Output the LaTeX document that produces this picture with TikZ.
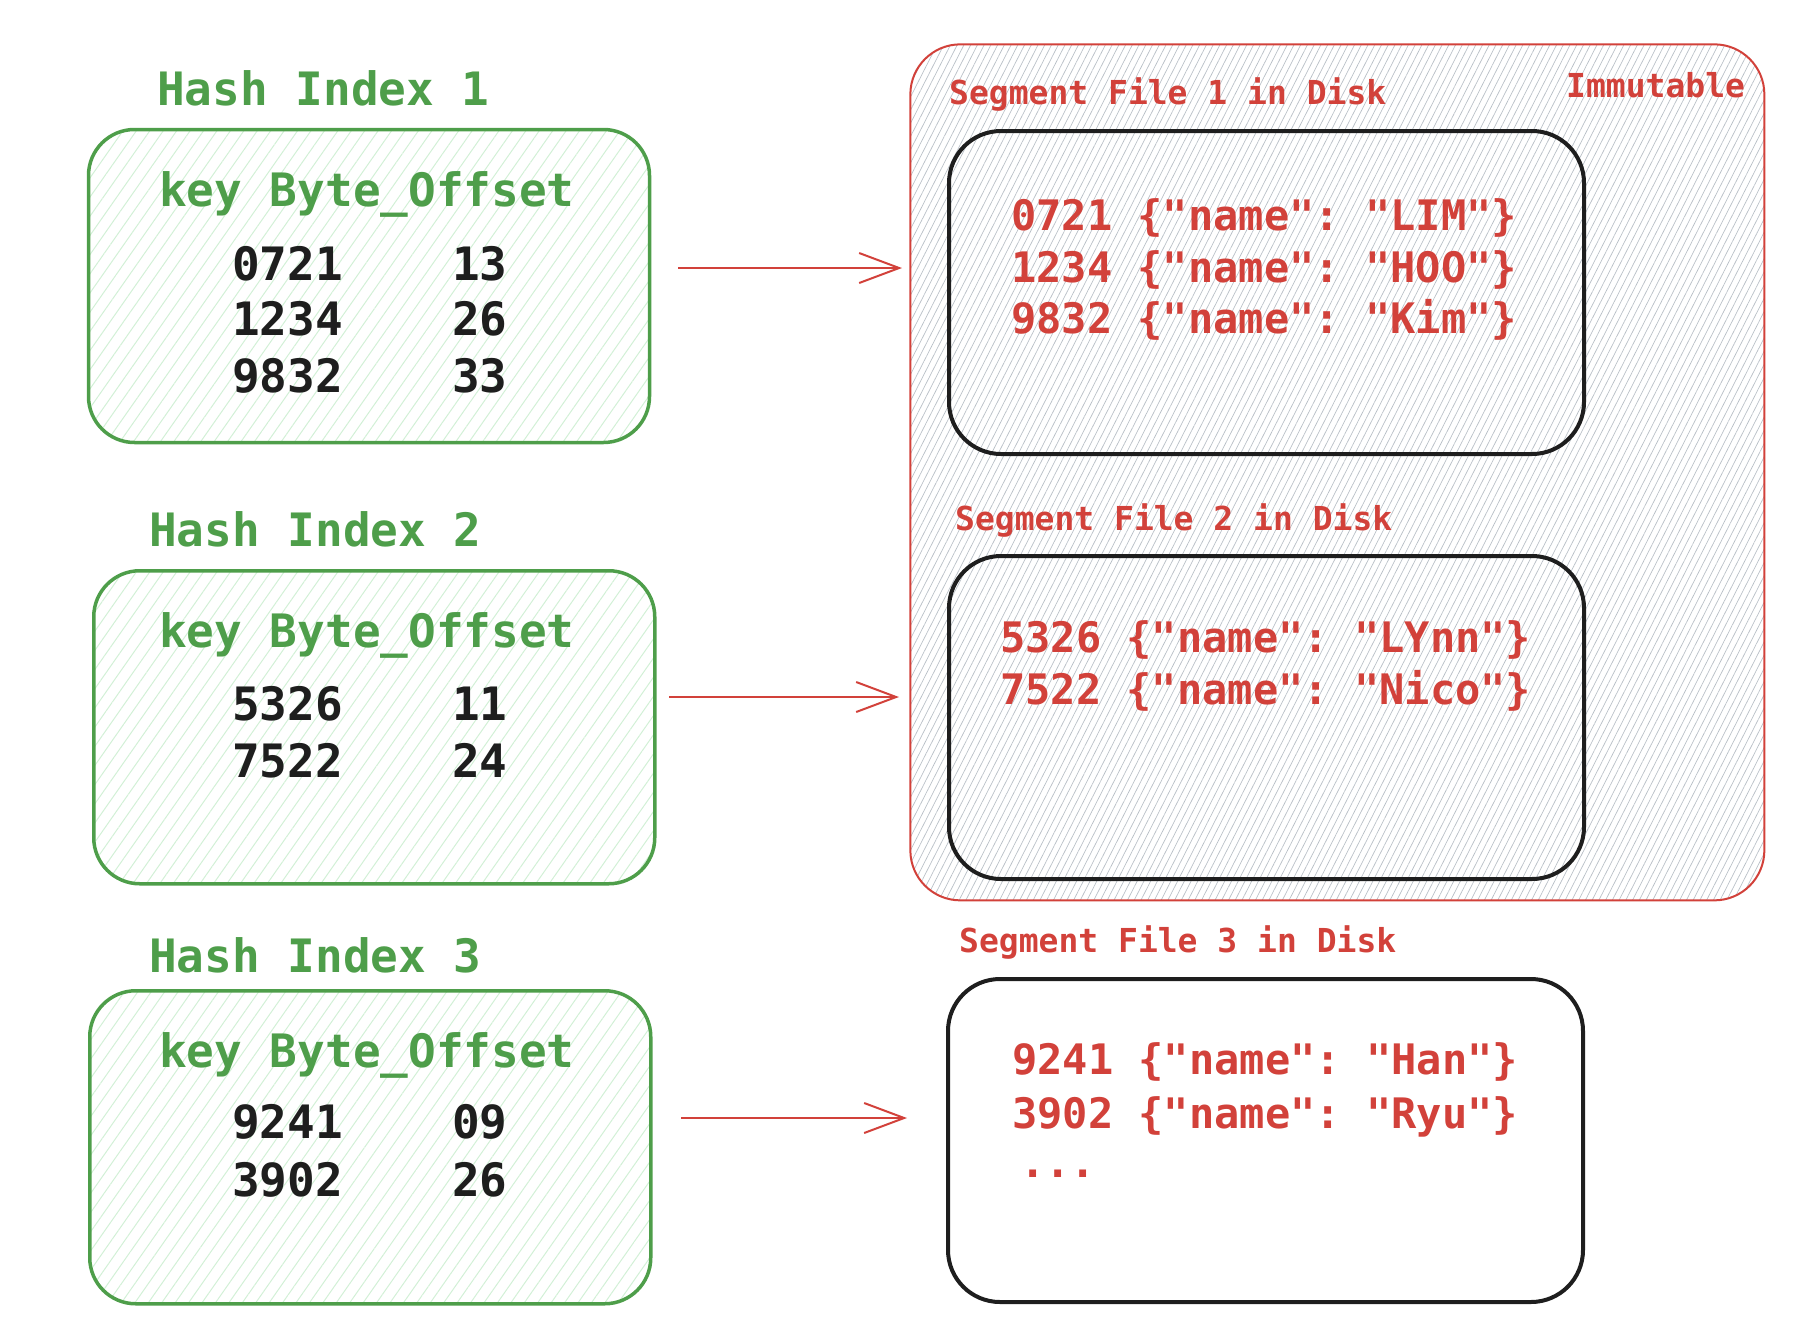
\documentclass[tikz,border=0pt]{standalone}
\usepackage{fontspec}
\setmonofont{DejaVu Sans Mono}
\usetikzlibrary{patterns.meta,arrows.meta}
\definecolor{grn}{HTML}{4E9E4A}
\definecolor{rd}{HTML}{D2413A}
\definecolor{ink}{HTML}{1E1E1E}
\definecolor{hatchg}{HTML}{D2F0D6}
\definecolor{hatchgray}{HTML}{B9C0C7}
\begin{document}
\begin{tikzpicture}[x=1pt,y=-1pt,
  idxbox/.style={draw=grn, line width=3.5pt, rounded corners=46pt, anchor=north west,
    minimum width=561pt, minimum height=313pt, inner sep=0pt,
    pattern={Lines[angle=55,distance=11pt,line width=1pt]}, pattern color=hatchg},
  immbox/.style={draw=rd, line width=2pt, rounded corners=50pt, anchor=north west,
    minimum width=854pt, minimum height=856pt, inner sep=0pt,
    pattern={Lines[angle=63,distance=6pt,line width=0.7pt]}, pattern color=hatchgray},
  segbox/.style={draw=ink, line width=4pt, rounded corners=52pt, anchor=north west,
    minimum width=635pt, minimum height=323pt, inner sep=0pt},
  idxlbl/.style={font=\ttfamily\bfseries\fontsize{46}{46}\selectfont, text=grn, anchor=base west, inner sep=0pt},
  idxnum/.style={font=\ttfamily\bfseries\fontsize{46}{46}\selectfont, text=ink, anchor=base west, inner sep=0pt},
  seglbl/.style={font=\ttfamily\bfseries\fontsize{33}{33}\selectfont, text=rd, anchor=base west, inner sep=0pt},
  segtxt/.style={font=\ttfamily\bfseries\fontsize{42}{42}\selectfont, text=rd, anchor=base west, inner sep=0pt},
  link/.style={draw=rd, line width=2pt, -{Straight Barb[length=40pt,width=30pt,line width=2pt]}}
]
\useasboundingbox (0,0) rectangle (1802,1342);

% outer immutable region
\node[immbox] (imm) at (910,44) {};
\node[seglbl] (immlbl) at (1566,97) {Immutable};

% hash index boxes
\node[idxbox] (h1) at (88,129) {};
\node[idxbox] (h2) at (92,569) {};
\node[idxbox] (h3) at (88,989) {};

\node[idxlbl] (h1t) at (157,105) {Hash Index 1};
\node[idxlbl] (h2t) at (149,546) {Hash Index 2};
\node[idxlbl] (h3t) at (149,972) {Hash Index 3};

\node[idxlbl] (k1) at (159,206) {key Byte\_Offset};
\node[idxlbl] (k2) at (159,647) {key Byte\_Offset};
\node[idxlbl] (k3) at (159,1067) {key Byte\_Offset};

\node[idxnum] (r11) at (232,280) {0721};
\node[idxnum] (o11) at (452,280) {13};
\node[idxnum] (r12) at (232,335) {1234};
\node[idxnum] (o12) at (452,335) {26};
\node[idxnum] (r13) at (232,392) {9832};
\node[idxnum] (o13) at (452,392) {33};

\node[idxnum] (r21) at (232,720) {5326};
\node[idxnum] (o21) at (452,720) {11};
\node[idxnum] (r22) at (232,777) {7522};
\node[idxnum] (o22) at (452,777) {24};

\node[idxnum] (r31) at (232,1138) {9241};
\node[idxnum] (o31) at (452,1138) {09};
\node[idxnum] (r32) at (232,1196) {3902};
\node[idxnum] (o32) at (452,1196) {26};

% segment files
\node[seglbl] (s1t) at (949,104) {Segment File 1 in Disk};
\node[seglbl] (s2t) at (955,530) {Segment File 2 in Disk};
\node[seglbl] (s3t) at (959,952) {Segment File 3 in Disk};

\node[segbox] (s1) at (947,129) {};
\node[segbox] (s2) at (947,554) {};
\node[segbox] (s3) at (946,977) {};

\node[segtxt] (d11) at (1011,230) {0721 \{"name": "LIM"\}};
\node[segtxt] (d12) at (1011,282) {1234 \{"name": "HOO"\}};
\node[segtxt] (d13) at (1011,333) {9832 \{"name": "Kim"\}};

\node[segtxt] (d21) at (1000,652) {5326 \{"name": "LYnn"\}};
\node[segtxt] (d22) at (1000,704) {7522 \{"name": "Nico"\}};

\node[segtxt] (d31) at (1012,1074) {9241 \{"name": "Han"\}};
\node[segtxt] (d32) at (1012,1128) {3902 \{"name": "Ryu"\}};
\node[segtxt] (d33) at (1020,1177) {...};

% arrows
\coordinate (a1s) at (678,268);
\coordinate (a1e) at (902,268);
\coordinate (a2s) at (669,697);
\coordinate (a2e) at (899,697);
\coordinate (a3s) at (681,1118);
\coordinate (a3e) at (907,1118);
\draw[link] (a1s) -- (a1e);
\draw[link] (a2s) -- (a2e);
\draw[link] (a3s) -- (a3e);
\end{tikzpicture}
\end{document}
